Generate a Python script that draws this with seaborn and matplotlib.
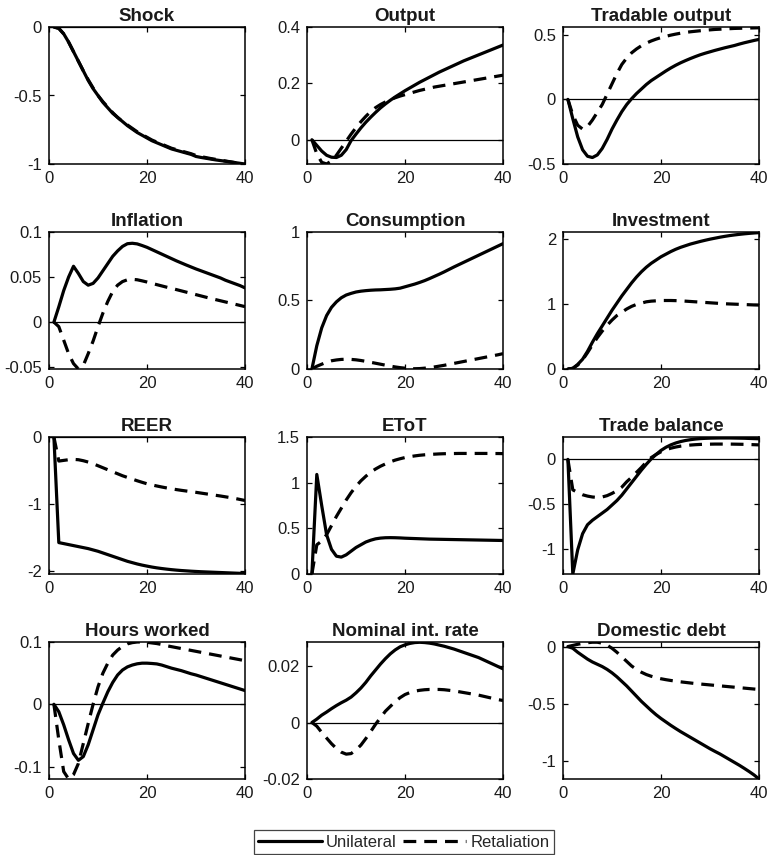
import matplotlib
matplotlib.use("Agg")
import matplotlib.pyplot as plt
import numpy as np
import pandas as pd
import seaborn as sns
from matplotlib.lines import Line2D

# ---------------- data ----------------
periods = list(range(1, 41))
titles = ["Shock", "Output", "Tradable output",
          "Inflation", "Consumption", "Investment",
          "REER", "EToT", "Trade balance",
          "Hours worked", "Nominal int. rate", "Domestic debt"]
scenarios = ["Unilateral", "Retaliation"]

shock_uni = [0, -0.01, -0.05, -0.11, -0.18, -0.25, -0.32, -0.39, -0.45, -0.50,
             -0.55, -0.59, -0.63, -0.66, -0.69, -0.72, -0.745, -0.77, -0.79, -0.81,
             -0.83, -0.845, -0.86, -0.875, -0.89, -0.90, -0.91, -0.92, -0.93, -0.945,
             -0.952, -0.958, -0.964, -0.97, -0.975, -0.98, -0.985, -0.99, -0.995, -1.0]
shock_ret = [0, -0.01, -0.05, -0.11, -0.18, -0.25, -0.32, -0.385, -0.445, -0.50,
             -0.545, -0.585, -0.625, -0.66, -0.69, -0.715, -0.74, -0.765, -0.785, -0.805,
             -0.825, -0.84, -0.855, -0.87, -0.885, -0.895, -0.905, -0.915, -0.925, -0.938,
             -0.946, -0.953, -0.96, -0.966, -0.972, -0.978, -0.984, -0.99, -0.995, -1.0]

output_uni = [0, -0.02, -0.04, -0.055, -0.062, -0.063, -0.055, -0.035, -0.003, 0.02,
              0.042, 0.062, 0.08, 0.097, 0.113, 0.127, 0.14, 0.152, 0.163, 0.174,
              0.184, 0.194, 0.204, 0.213, 0.222, 0.231, 0.24, 0.248, 0.256, 0.264,
              0.272, 0.28, 0.287, 0.294, 0.301, 0.308, 0.315, 0.322, 0.329, 0.336]
output_ret = [0, -0.05, -0.08, -0.086, -0.075, -0.055, -0.03, -0.005, 0.02, 0.043,
              0.064, 0.083, 0.1, 0.114, 0.125, 0.134, 0.142, 0.149, 0.155, 0.16,
              0.165, 0.17, 0.175, 0.179, 0.183, 0.187, 0.19, 0.193, 0.196, 0.199,
              0.202, 0.205, 0.208, 0.211, 0.214, 0.217, 0.22, 0.223, 0.226, 0.229]

trad_uni = [0, -0.15, -0.29, -0.39, -0.44, -0.45, -0.43, -0.38, -0.31, -0.23,
            -0.16, -0.095, -0.04, 0.005, 0.045, 0.08, 0.115, 0.145, 0.17, 0.195,
            0.22, 0.243, 0.264, 0.283, 0.30, 0.316, 0.331, 0.345, 0.357, 0.368,
            0.379, 0.389, 0.399, 0.408, 0.417, 0.428, 0.438, 0.447, 0.456, 0.464]
trad_ret = [0, -0.12, -0.2, -0.23, -0.21, -0.16, -0.1, -0.04, 0.04, 0.12,
            0.2, 0.27, 0.32, 0.36, 0.39, 0.415, 0.435, 0.452, 0.466, 0.478,
            0.488, 0.497, 0.505, 0.512, 0.518, 0.523, 0.527, 0.531, 0.535, 0.538,
            0.541, 0.543, 0.545, 0.547, 0.549, 0.55, 0.551, 0.552, 0.553, 0.554]

infl_uni = [0, 0.017, 0.035, 0.05, 0.062, 0.054, 0.045, 0.041, 0.043, 0.049,
            0.057, 0.065, 0.073, 0.079, 0.084, 0.087, 0.0875, 0.0868, 0.085, 0.083,
            0.0805, 0.078, 0.0755, 0.073, 0.0705, 0.068, 0.0657, 0.0634, 0.0612, 0.059,
            0.057, 0.055, 0.053, 0.051, 0.049, 0.0465, 0.0445, 0.0425, 0.0405, 0.038]
infl_ret = [0, -0.005, -0.02, -0.035, -0.046, -0.052, -0.048, -0.035, -0.021, -0.005,
            0.01, 0.023, 0.034, 0.041, 0.045, 0.047, 0.0475, 0.047, 0.0458, 0.0445,
            0.043, 0.0416, 0.0402, 0.0388, 0.0375, 0.0361, 0.0347, 0.0333, 0.0319, 0.0305,
            0.0291, 0.0277, 0.0263, 0.025, 0.0237, 0.0224, 0.0211, 0.0198, 0.0185, 0.0172]

cons_uni = [0, 0.17, 0.3, 0.39, 0.45, 0.49, 0.52, 0.54, 0.552, 0.562,
            0.568, 0.572, 0.575, 0.577, 0.578, 0.58, 0.582, 0.585, 0.59, 0.6,
            0.61, 0.62, 0.632, 0.645, 0.66, 0.676, 0.692, 0.709, 0.727, 0.745,
            0.762, 0.779, 0.796, 0.813, 0.83, 0.847, 0.864, 0.881, 0.898, 0.915]
cons_ret = [0, 0.02, 0.035, 0.05, 0.06, 0.066, 0.07, 0.071, 0.07, 0.067,
            0.062, 0.056, 0.049, 0.042, 0.035, 0.028, 0.021, 0.015, 0.01, 0.006,
            0.003, 0.002, 0.003, 0.006, 0.01, 0.015, 0.021, 0.027, 0.034, 0.041,
            0.048, 0.055, 0.062, 0.069, 0.076, 0.083, 0.09, 0.097, 0.104, 0.112]

inv_uni = [0, 0.01, 0.07, 0.15, 0.27, 0.41, 0.54, 0.66, 0.78, 0.9,
           1.01, 1.12, 1.22, 1.32, 1.41, 1.49, 1.56, 1.62, 1.67, 1.72,
           1.76, 1.8, 1.835, 1.865, 1.89, 1.915, 1.935, 1.955, 1.973, 1.99,
           2.005, 2.02, 2.033, 2.045, 2.055, 2.064, 2.072, 2.079, 2.085, 2.09]
inv_ret = [0, 0.01, 0.06, 0.14, 0.25, 0.37, 0.48, 0.58, 0.67, 0.75,
           0.82, 0.87, 0.92, 0.96, 0.99, 1.01, 1.03, 1.04, 1.045, 1.05,
           1.05, 1.05, 1.048, 1.045, 1.04, 1.035, 1.03, 1.025, 1.02, 1.015,
           1.01, 1.005, 1.0, 0.997, 0.994, 0.991, 0.988, 0.985, 0.982, 0.98]

reer_uni = [0, -1.58, -1.595, -1.61, -1.625, -1.64, -1.655, -1.67, -1.69, -1.71,
            -1.735, -1.76, -1.785, -1.81, -1.835, -1.86, -1.88, -1.9, -1.917, -1.932,
            -1.946, -1.958, -1.968, -1.977, -1.985, -1.992, -1.998, -2.003, -2.008, -2.012,
            -2.016, -2.019, -2.022, -2.025, -2.028, -2.031, -2.034, -2.037, -2.04, -2.043]
reer_ret = [0, -0.36, -0.35, -0.34, -0.335, -0.34, -0.355, -0.375, -0.4, -0.43,
            -0.46, -0.49, -0.52, -0.55, -0.58, -0.605, -0.63, -0.655, -0.678, -0.7,
            -0.717, -0.733, -0.748, -0.762, -0.775, -0.787, -0.798, -0.808, -0.818, -0.828,
            -0.839, -0.85, -0.861, -0.872, -0.883, -0.895, -0.907, -0.92, -0.935, -0.95]

etot_uni = [0, 1.09, 0.75, 0.43, 0.27, 0.195, 0.185, 0.21, 0.25, 0.29,
            0.32, 0.35, 0.37, 0.385, 0.393, 0.397, 0.398, 0.397, 0.395, 0.392,
            0.39, 0.388, 0.386, 0.384, 0.382, 0.381, 0.38, 0.379, 0.378, 0.377,
            0.376, 0.375, 0.374, 0.373, 0.372, 0.371, 0.37, 0.369, 0.368, 0.367]
etot_ret = [0, 0.32, 0.36, 0.43, 0.53, 0.63, 0.72, 0.81, 0.89, 0.96,
            1.02, 1.07, 1.115, 1.15, 1.18, 1.205, 1.228, 1.247, 1.262, 1.275,
            1.285, 1.293, 1.3, 1.305, 1.309, 1.312, 1.315, 1.317, 1.318, 1.319,
            1.32, 1.32, 1.32, 1.32, 1.32, 1.32, 1.32, 1.319, 1.319, 1.318]

tb_uni = [0, -1.28, -1.01, -0.83, -0.73, -0.68, -0.64, -0.6, -0.56, -0.51,
          -0.46, -0.4, -0.33, -0.26, -0.19, -0.12, -0.055, 0.005, 0.055, 0.1,
          0.135, 0.162, 0.183, 0.199, 0.211, 0.22, 0.227, 0.232, 0.235, 0.237,
          0.238, 0.239, 0.239, 0.239, 0.238, 0.237, 0.236, 0.234, 0.232, 0.23]
tb_ret = [0, -0.34, -0.37, -0.395, -0.41, -0.42, -0.425, -0.42, -0.405, -0.38,
          -0.35, -0.31, -0.25, -0.2, -0.145, -0.09, -0.03, 0.02, 0.055, 0.085,
          0.108, 0.125, 0.138, 0.148, 0.155, 0.16, 0.164, 0.167, 0.169, 0.17,
          0.171, 0.171, 0.171, 0.171, 0.17, 0.169, 0.168, 0.166, 0.164, 0.162]

hours_uni = [0, -0.012, -0.033, -0.057, -0.079, -0.09, -0.084, -0.065, -0.041, -0.017,
             0.002, 0.02, 0.035, 0.047, 0.055, 0.06, 0.063, 0.065, 0.066, 0.066,
             0.0655, 0.0648, 0.063, 0.0605, 0.058, 0.056, 0.054, 0.0515, 0.049, 0.047,
             0.0445, 0.042, 0.0395, 0.037, 0.0345, 0.032, 0.0295, 0.027, 0.0245, 0.022]
hours_ret = [0, -0.057, -0.108, -0.12, -0.113, -0.095, -0.063, -0.031, 0.0, 0.028,
             0.05, 0.066, 0.079, 0.087, 0.093, 0.097, 0.099, 0.1, 0.1, 0.0995,
             0.0985, 0.0975, 0.096, 0.094, 0.0925, 0.091, 0.0895, 0.088, 0.0865, 0.085,
             0.0835, 0.082, 0.0805, 0.079, 0.0775, 0.076, 0.0745, 0.073, 0.0715, 0.07]

rate_uni = [0, 0.0012, 0.0026, 0.0037, 0.0049, 0.006, 0.007, 0.0079, 0.009, 0.0105,
            0.0122, 0.0142, 0.0165, 0.0186, 0.0207, 0.0226, 0.0243, 0.0257, 0.0268, 0.0275,
            0.028, 0.0283, 0.0284, 0.0283, 0.0281, 0.0278, 0.0274, 0.027, 0.0265, 0.026,
            0.0254, 0.0248, 0.0242, 0.0236, 0.023, 0.0222, 0.0214, 0.0206, 0.0198, 0.019]
rate_ret = [0, -0.0013, -0.0035, -0.0055, -0.0075, -0.0092, -0.0105, -0.0112, -0.011, -0.0097,
            -0.008, -0.0057, -0.0032, -0.0006, 0.0017, 0.004, 0.0057, 0.0074, 0.0088, 0.0099,
            0.0106, 0.0111, 0.0114, 0.0116, 0.0117, 0.0117, 0.0117, 0.0116, 0.0114, 0.0112,
            0.0109, 0.0106, 0.0103, 0.01, 0.0097, 0.0093, 0.0089, 0.0085, 0.0081, 0.0078]

debt_uni = [0, -0.015, -0.05, -0.08, -0.11, -0.135, -0.155, -0.175, -0.2, -0.23,
            -0.265, -0.305, -0.345, -0.39, -0.435, -0.48, -0.52, -0.56, -0.597, -0.63,
            -0.66, -0.69, -0.718, -0.745, -0.77, -0.795, -0.82, -0.845, -0.87, -0.895,
            -0.918, -0.94, -0.965, -0.99, -1.015, -1.04, -1.067, -1.095, -1.125, -1.16]
debt_ret = [0, 0.01, 0.02, 0.028, 0.034, 0.038, 0.038, 0.03, 0.012, -0.015,
            -0.05, -0.09, -0.13, -0.17, -0.2, -0.225, -0.245, -0.26, -0.272, -0.282,
            -0.29, -0.297, -0.303, -0.309, -0.314, -0.319, -0.324, -0.328, -0.332, -0.336,
            -0.34, -0.344, -0.348, -0.352, -0.356, -0.36, -0.364, -0.368, -0.372, -0.376]

series = [(shock_uni, shock_ret), (output_uni, output_ret), (trad_uni, trad_ret),
          (infl_uni, infl_ret), (cons_uni, cons_ret), (inv_uni, inv_ret),
          (reer_uni, reer_ret), (etot_uni, etot_ret), (tb_uni, tb_ret),
          (hours_uni, hours_ret), (rate_uni, rate_ret), (debt_uni, debt_ret)]

ylims = [(-1, 0), (-0.086, 0.4), (-0.5, 0.56),
         (-0.052, 0.1), (0, 1), (0, 2.1),
         (-2.05, 0), (0, 1.5), (-1.28, 0.25),
         (-0.12, 0.1), (-0.02, 0.0285), (-1.16, 0.04)]
yticks = [[-1, -0.5, 0], [0, 0.2, 0.4], [-0.5, 0, 0.5],
          [-0.05, 0, 0.05, 0.1], [0, 0.5, 1], [0, 1, 2],
          [-2, -1, 0], [0, 0.5, 1, 1.5], [-1, -0.5, 0],
          [-0.1, 0, 0.1], [-0.02, 0, 0.02], [-1, -0.5, 0]]
ytick_labels = [["-1", "-0.5", "0"], ["0", "0.2", "0.4"], ["-0.5", "0", "0.5"],
                ["-0.05", "0", "0.05", "0.1"], ["0", "0.5", "1"], ["0", "1", "2"],
                ["-2", "-1", "0"], ["0", "0.5", "1", "1.5"], ["-1", "-0.5", "0"],
                ["-0.1", "0", "0.1"], ["-0.02", "0", "0.02"], ["-1", "-0.5", "0"]]
xticks = [0, 20, 40]
xtick_labels = ["0", "20", "40"]

# long-form table
rows = []
for title, (uni, ret) in zip(titles, series):
    for scen, vals in zip(scenarios, (uni, ret)):
        for t, v in zip(periods, vals):
            rows.append((title, scen, t, v))
df = pd.DataFrame(rows, columns=["panel", "scenario", "t", "value"])

# ---------------- style ----------------
sns.set_theme(style="ticks")
plt.rcParams["font.family"] = ["Liberation Sans", "DejaVu Sans"]
plt.rcParams["axes.linewidth"] = 1.1
plt.rcParams["axes.edgecolor"] = "black"

W, H = 769, 855
fig = plt.figure(figsize=(W / 100, H / 100), dpi=100)
fig.patch.set_facecolor("white")

col_left = [49, 307, 563]
row_top = [27, 232, 437, 642]
aw, ah = 196, 137

dash_pat = (4, 2.5)
lw = 2.3

for i, title in enumerate(titles):
    r, c = divmod(i, 3)
    ax = fig.add_axes([col_left[c] / W, 1 - (row_top[r] + ah) / H, aw / W, ah / H])
    ax.axhline(0, color="black", lw=0.9, zorder=1)
    sub = df[df["panel"] == title]
    sns.lineplot(data=sub, x="t", y="value", style="scenario",
                 style_order=scenarios,
                 dashes={"Unilateral": "", "Retaliation": dash_pat},
                 color="black", linewidth=lw, legend=False, ax=ax,
                 estimator=None, sort=False, zorder=3)
    ax.set_xlim(0, 40)
    ax.set_ylim(*ylims[i])
    ax.set_xticks(xticks)
    ax.set_xticklabels(xtick_labels)
    ax.set_yticks(yticks[i])
    ax.set_yticklabels(ytick_labels[i])
    ax.set_xlabel("")
    ax.set_ylabel("")
    ax.set_title(title, fontsize=13.5, fontweight="bold", pad=4, color="#1a1a1a")
    ax.tick_params(direction="in", top=True, right=True, length=3.5, width=0.9,
                   labelsize=12, pad=5, colors="black", labelcolor="#1a1a1a")
    for s in ax.spines.values():
        s.set_visible(True)
        s.set_linewidth(1.1)
        s.set_color("black")
    ax.set_facecolor("white")

handles = [Line2D([0], [0], color="black", lw=lw, linestyle="-"),
           Line2D([0], [0], color="black", lw=lw, linestyle=(0, dash_pat))]
leg = fig.legend(handles, scenarios, loc="center", ncol=2,
                 bbox_to_anchor=(404 / W, 1 - 842 / H),
                 fontsize=12, frameon=True, fancybox=False, framealpha=1,
                 edgecolor="#444444", handlelength=3.8, handletextpad=0.25,
                 columnspacing=0.4, borderpad=0.25, borderaxespad=0)
leg.get_frame().set_linewidth(0.9)

fig.savefig("out.png", dpi=100, facecolor="white")
